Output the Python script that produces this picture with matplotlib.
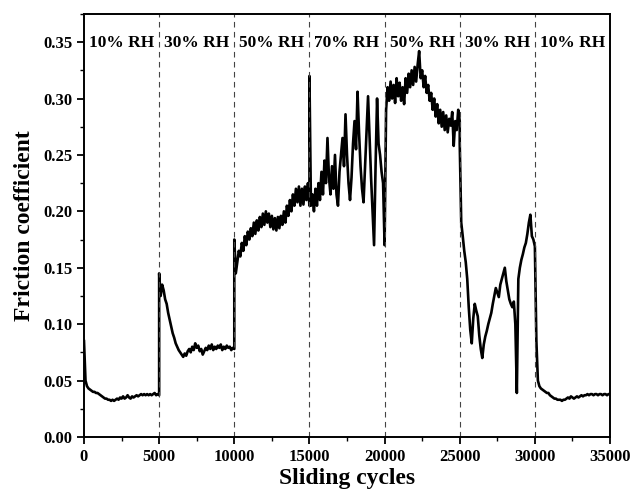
import numpy as np
import matplotlib.pyplot as plt
from matplotlib.ticker import MultipleLocator

# Friction coefficient read every 100 cycles, one list per humidity stage
# (each list runs from the stage start to the stage end, 51 readings)
stage_starts = [0, 5000, 10000, 15000, 20000, 25000, 30000]
stage_labels = ["10% RH", "30% RH", "50% RH", "70% RH", "50% RH", "30% RH", "10% RH"]

mu_10rh_a = [0.085, 0.050, 0.045, 0.043, 0.042, 0.041, 0.040, 0.040, 0.039, 0.039,
             0.038, 0.037, 0.036, 0.035, 0.034, 0.034, 0.033, 0.033, 0.032, 0.033,
             0.032, 0.033, 0.034, 0.033, 0.035, 0.034, 0.036, 0.034, 0.035, 0.037,
             0.035, 0.034, 0.036, 0.035, 0.036, 0.037, 0.036, 0.037, 0.038, 0.037,
             0.038, 0.037, 0.038, 0.037, 0.038, 0.037, 0.038, 0.039, 0.037, 0.038,
             0.037]
mu_30rh_a = [0.145, 0.125, 0.135, 0.130, 0.122, 0.118, 0.110, 0.104, 0.098, 0.092,
             0.088, 0.083, 0.080, 0.077, 0.075, 0.073, 0.071, 0.074, 0.072, 0.076,
             0.078, 0.075, 0.080, 0.077, 0.083, 0.079, 0.081, 0.076, 0.078, 0.073,
             0.076, 0.079, 0.077, 0.081, 0.078, 0.082, 0.077, 0.080, 0.078, 0.081,
             0.079, 0.082, 0.077, 0.080, 0.078, 0.081, 0.079, 0.080, 0.077, 0.079,
             0.078]
mu_50rh_a = [0.175, 0.145, 0.155, 0.165, 0.160, 0.172, 0.165, 0.178, 0.170, 0.182,
             0.175, 0.185, 0.178, 0.190, 0.180, 0.192, 0.183, 0.195, 0.186, 0.198,
             0.188, 0.200, 0.190, 0.198, 0.186, 0.196, 0.184, 0.194, 0.183, 0.195,
             0.185, 0.196, 0.188, 0.200, 0.190, 0.205, 0.196, 0.210, 0.200, 0.215,
             0.205, 0.220, 0.208, 0.222, 0.205, 0.220, 0.206, 0.222, 0.210, 0.225,
             0.205]
mu_70rh = [0.320, 0.205, 0.215, 0.200, 0.220, 0.205, 0.225, 0.210, 0.235, 0.215,
           0.245, 0.225, 0.265, 0.230, 0.215, 0.240, 0.220, 0.250, 0.215, 0.205,
           0.235, 0.250, 0.265, 0.240, 0.286, 0.250, 0.225, 0.210, 0.230, 0.260,
           0.280, 0.255, 0.306, 0.270, 0.240, 0.220, 0.208, 0.240, 0.270, 0.302,
           0.265, 0.230, 0.200, 0.170, 0.240, 0.300, 0.260, 0.250, 0.235, 0.225,
           0.170]
mu_50rh_b = [0.170, 0.290, 0.310, 0.298, 0.315, 0.300, 0.312, 0.296, 0.318, 0.302,
             0.314, 0.298, 0.310, 0.295, 0.318, 0.305, 0.322, 0.310, 0.325, 0.312,
             0.328, 0.315, 0.330, 0.342, 0.318, 0.325, 0.310, 0.320, 0.305, 0.312,
             0.298, 0.305, 0.290, 0.300, 0.284, 0.295, 0.278, 0.290, 0.275, 0.288,
             0.272, 0.285, 0.270, 0.282, 0.276, 0.288, 0.258, 0.280, 0.272, 0.290,
             0.280]
mu_30rh_b = [0.260, 0.190, 0.178, 0.165, 0.155, 0.140, 0.115, 0.095, 0.083, 0.105,
             0.118, 0.112, 0.107, 0.090, 0.078, 0.070, 0.082, 0.089, 0.094, 0.100,
             0.105, 0.110, 0.118, 0.125, 0.132, 0.128, 0.124, 0.135, 0.140, 0.145,
             0.150, 0.138, 0.130, 0.122, 0.118, 0.115, 0.120, 0.100, 0.039, 0.140,
             0.150, 0.157, 0.162, 0.168, 0.172, 0.180, 0.190, 0.197, 0.178, 0.175,
             0.169]
mu_10rh_b = [0.169, 0.085, 0.050, 0.045, 0.043, 0.042, 0.041, 0.040, 0.039, 0.039,
             0.037, 0.036, 0.035, 0.034, 0.034, 0.033, 0.033, 0.033, 0.032, 0.033,
             0.033, 0.034, 0.035, 0.034, 0.036, 0.035, 0.034, 0.035, 0.036, 0.035,
             0.036, 0.037, 0.036, 0.037, 0.037, 0.038, 0.037, 0.038, 0.038, 0.037,
             0.038, 0.038, 0.037, 0.038, 0.038, 0.037, 0.038, 0.038, 0.037, 0.038,
             0.038]

stages = [mu_10rh_a, mu_30rh_a, mu_50rh_a, mu_70rh, mu_50rh_b, mu_30rh_b, mu_10rh_b]
stage_len = 5000

cycles = np.concatenate([np.linspace(s, s + stage_len, len(m)) for s, m in zip(stage_starts, stages)])
mu = np.concatenate(stages)

plt.rcParams['font.family'] = ['Liberation Serif', 'DejaVu Serif']
plt.rcParams['font.weight'] = 'bold'

fig = plt.figure(figsize=(6.33, 4.96), dpi=100)
ax = fig.add_axes([0.1327, 0.119, 0.831, 0.853])

ax.plot(cycles, mu, color='black', linewidth=1.9)

# stage boundaries and labels
for s in stage_starts[1:]:
    ax.axvline(s, color='#444444', linestyle=(0, (5, 4)), linewidth=0.8)
for s, lab in zip(stage_starts, stage_labels):
    ax.text(s + stage_len / 2, 0.349, lab, ha='center', va='center',
            fontsize=12.5, fontweight='bold')

ax.set_xlim(0, 35000)
ax.set_ylim(0, 0.375)
ax.xaxis.set_major_locator(MultipleLocator(5000))
ax.xaxis.set_minor_locator(MultipleLocator(2500))
ax.yaxis.set_major_locator(MultipleLocator(0.05))
ax.yaxis.set_minor_locator(MultipleLocator(0.025))
ax.yaxis.set_major_formatter(plt.FormatStrFormatter('%.2f'))
ax.tick_params(which='major', direction='out', length=5, width=1.3, labelsize=12)
ax.tick_params(which='minor', direction='out', length=3, width=1.0)
for sp in ax.spines.values():
    sp.set_linewidth(1.4)

ax.set_xlabel('Sliding cycles', fontsize=17, fontweight='bold', labelpad=2)
ax.set_ylabel('Friction coefficient', fontsize=17, fontweight='bold', labelpad=6)

fig.savefig('out.png', dpi=100)
